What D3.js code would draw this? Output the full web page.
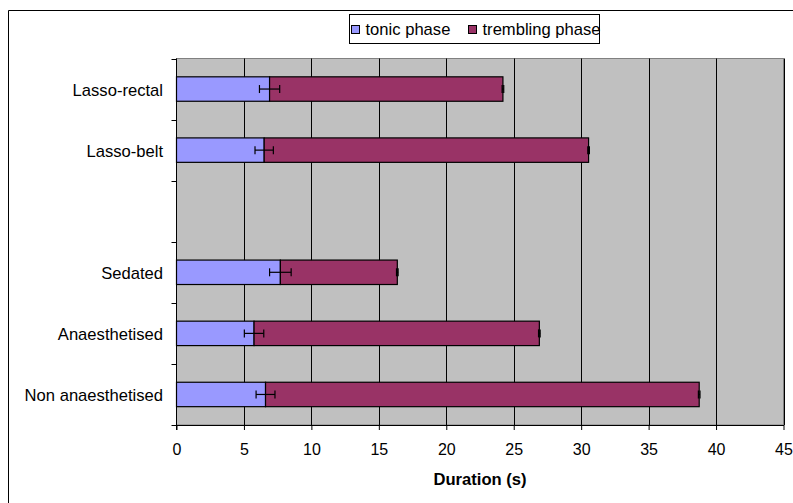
<!DOCTYPE html>
<html>
<head>
<meta charset="utf-8">
<script src="https://cdn.jsdelivr.net/npm/d3@7"></script>
<style>
  html, body { margin: 0; padding: 0; background: #fff; }
  svg { display: block; font-family: "Liberation Sans", Arial, sans-serif; }
</style>
</head>
<body>
<svg id="chart" width="793" height="503"></svg>
<script>
// Groups, top to bottom; the empty entry leaves a blank row between the lasso and sedation groups
const categories = ["Lasso-rectal", "Lasso-belt", "", "Sedated", "Anaesthetised", "Non anaesthetised"];
// Mean durations (s) and their errors
const tonic      = [6.9, 6.5, null, 7.7, 5.75, 6.6];
const tonicErr   = [0.75, 0.68, null, 0.8, 0.72, 0.7];
const trembling  = [17.3, 24.05, null, 8.67, 21.15, 32.15];
const tremblingErr = [0.06, 0.06, null, 0.06, 0.06, 0.06];
const seriesNames = ["tonic phase", "trembling phase"];
const xTicks = [0, 5, 10, 15, 20, 25, 30, 35, 40, 45];

const colors = ["#9999FF", "#993366"];
const FONT = "'Liberation Sans', Arial, sans-serif";

const svg = d3.select("#chart");
const m = { left: 176.5, right: 783.5, top: 58.5, bottom: 425 };

// outer chart frame (open to the right and bottom)
svg.append("path")
  .attr("d", `M8.5,503 V10.5 H793`)
  .attr("fill", "none").attr("stroke", "#000").attr("stroke-width", 1);

const x = d3.scaleLinear().domain([0, 45]).range([m.left, m.right]);
const y = d3.scaleBand().domain(d3.range(categories.length)).range([m.top, m.bottom]).paddingInner(0.6).paddingOuter(0.3);
const slot = d3.scaleBand().domain(d3.range(categories.length)).range([m.top, m.bottom]);

// plot background
svg.append("rect")
  .attr("x", m.left).attr("y", m.top)
  .attr("width", m.right - m.left).attr("height", m.bottom - m.top)
  .attr("fill", "#C0C0C0").attr("stroke", "#808080").attr("stroke-width", 1);

// vertical gridlines
svg.append("g").selectAll("line").data(xTicks.slice(1))
  .join("line")
  .attr("x1", d => Math.round(x(d)) + 0.5).attr("x2", d => Math.round(x(d)) + 0.5)
  .attr("y1", m.top).attr("y2", m.bottom)
  .attr("stroke", "#000").attr("stroke-width", 1);

// stacked bars
const rows = categories.map((c, i) => ({ i, c, t: tonic[i], tr: trembling[i], te: tonicErr[i], tre: tremblingErr[i] }))
  .filter(d => d.t != null);

const bars = svg.append("g");
bars.selectAll("rect.tonic").data(rows).join("rect")
  .attr("class", "tonic")
  .attr("x", x(0)).attr("y", d => y(d.i))
  .attr("width", d => x(d.t) - x(0)).attr("height", y.bandwidth())
  .attr("fill", colors[0]).attr("stroke", "#000").attr("stroke-width", 1.2);
bars.selectAll("rect.trem").data(rows).join("rect")
  .attr("class", "trem")
  .attr("x", d => x(d.t)).attr("y", d => y(d.i))
  .attr("width", d => x(d.t + d.tr) - x(d.t)).attr("height", y.bandwidth())
  .attr("fill", colors[1]).attr("stroke", "#000").attr("stroke-width", 1.2);

// error bars
function errorBars(data, valueFn, errFn) {
  const g = svg.append("g").attr("stroke", "#000").attr("stroke-width", 1.2);
  data.forEach(d => {
    const v = valueFn(d), e = errFn(d);
    const cy = y(d.i) + y.bandwidth() / 2;
    g.append("line").attr("x1", x(v - e)).attr("x2", x(v + e)).attr("y1", cy).attr("y2", cy);
    g.append("line").attr("x1", x(v - e)).attr("x2", x(v - e)).attr("y1", cy - 4).attr("y2", cy + 4);
    g.append("line").attr("x1", x(v + e)).attr("x2", x(v + e)).attr("y1", cy - 4).attr("y2", cy + 4);
  });
}
errorBars(rows, d => d.t, d => d.te);
errorBars(rows, d => d.t + d.tr, d => d.tre);

// x axis
const xAxis = svg.append("g").attr("transform", `translate(0,${m.bottom})`)
  .call(d3.axisBottom(x).tickValues(xTicks).tickSize(5).tickSizeOuter(0).tickPadding(14));
xAxis.select(".domain").attr("stroke", "#000");
xAxis.selectAll(".tick line").attr("stroke", "#000");
xAxis.selectAll("text").attr("font-size", 16).attr("fill", "#000").attr("font-family", FONT);

// y axis: ticks at row boundaries, labels at row centres
const yAxisG = svg.append("g");
yAxisG.append("line").attr("x1", m.left).attr("x2", m.left).attr("y1", m.top).attr("y2", m.bottom + 5)
  .attr("stroke", "#000");
yAxisG.selectAll("line.tk").data(d3.range(categories.length + 1))
  .join("line").attr("class", "tk")
  .attr("x1", m.left - 5).attr("x2", m.left)
  .attr("y1", i => Math.round(m.top + i * slot.step()) + 0.5)
  .attr("y2", i => Math.round(m.top + i * slot.step()) + 0.5)
  .attr("stroke", "#000");
yAxisG.selectAll("text").data(categories.map((c, i) => ({ c, i })).filter(d => d.c))
  .join("text")
  .attr("x", 163).attr("y", d => slot(d.i) + slot.bandwidth() / 2 + 1)
  .attr("dy", "0.35em").attr("text-anchor", "end")
  .attr("font-size", 16.6).attr("fill", "#000")
  .text(d => d.c);

// axis title
svg.append("text")
  .attr("x", (m.left + m.right) / 2).attr("y", 484.5)
  .attr("text-anchor", "middle").attr("font-size", 16.6).attr("font-weight", "bold")
  .text("Duration (s)");

// legend
const lg = svg.append("g");
lg.append("rect").attr("x", 349.5).attr("y", 14.5).attr("width", 250).attr("height", 29)
  .attr("fill", "#fff").attr("stroke", "#000");
const legendItems = [
  { name: seriesNames[0], color: colors[0], x: 351 },
  { name: seriesNames[1], color: colors[1], x: 468 }
];
legendItems.forEach(d => {
  lg.append("rect").attr("x", d.x + 0.5).attr("y", 25.5).attr("width", 8).attr("height", 8)
    .attr("fill", d.color).attr("stroke", "#000");
  lg.append("text").attr("x", d.x + 14.5).attr("y", 35)
    .attr("font-size", 16.6).attr("fill", "#000").text(d.name);
});
</script>
</body>
</html>
